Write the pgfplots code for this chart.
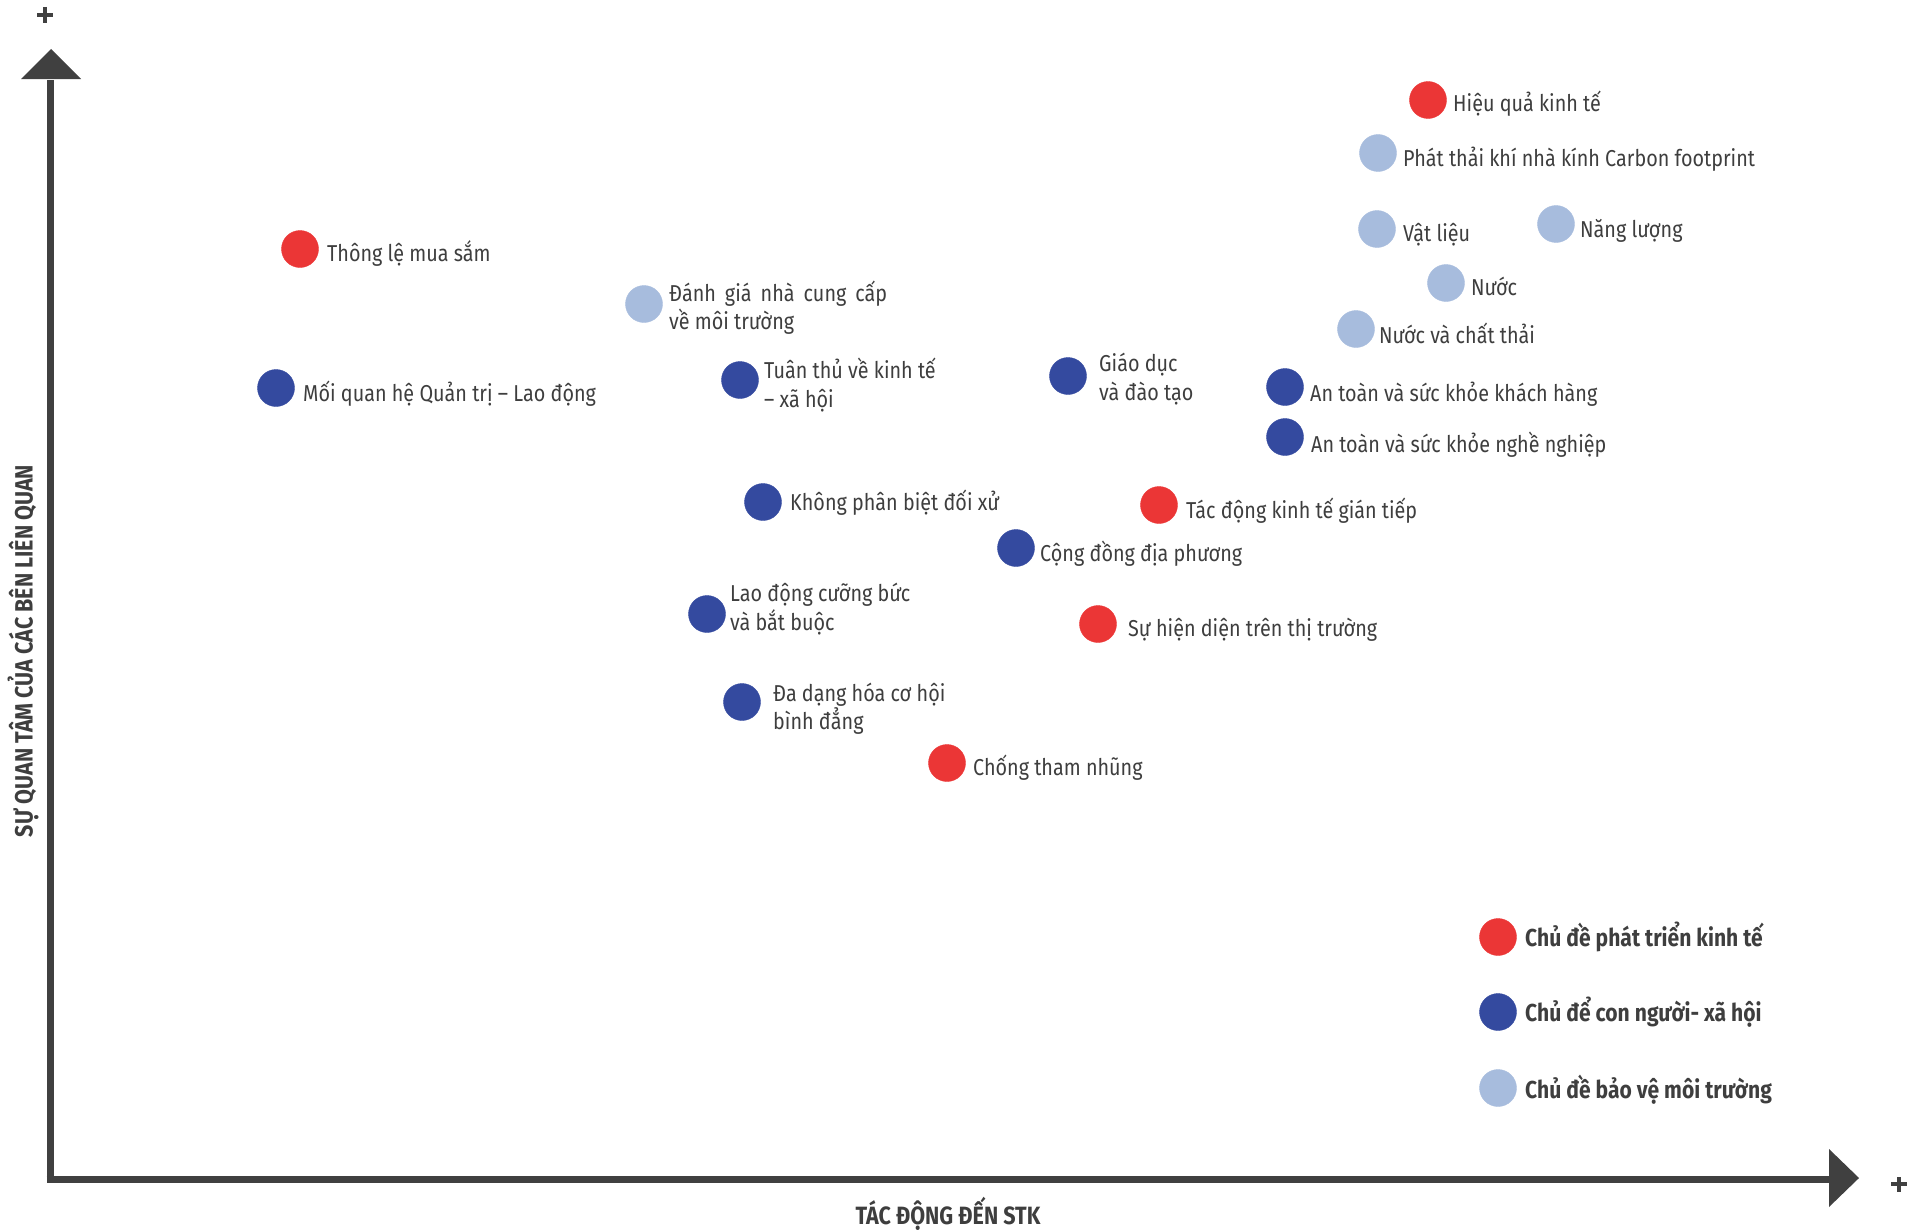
\documentclass[border=0pt]{standalone}
\usepackage{fontspec}
\setmainfont{Fira Sans}[FakeStretch=0.86]
\usepackage{pgfplots}
\pgfplotsset{compat=1.18}
\definecolor{cred}{HTML}{EB3636}
\definecolor{cdark}{HTML}{344A9F}
\definecolor{clight}{HTML}{A7BCDD}
\definecolor{ctext}{HTML}{3E3E3E}
\definecolor{caxis}{HTML}{404040}
\tikzset{lbl/.style={anchor=base west, inner sep=0pt, text=ctext, font=\fontsize{23}{27}\selectfont},
  leg/.style={anchor=base west, inner sep=0pt, text=ctext, font=\fontsize{24.5}{29}\selectfont\bfseries}}
\newcommand{\lbl}[3]{\node[lbl] at (axis cs:#1,#2) {#3};}
\begin{document}
\begin{tikzpicture}
\begin{axis}[
  scale only axis, width=1921pt, height=1231pt,
  xmin=0, xmax=1921, ymin=0, ymax=1231, y dir=reverse,
  hide axis, clip=false,
  every axis plot/.append style={only marks, mark=*, mark size=18.5pt},
]
\path (axis cs:0,0) rectangle (axis cs:1921,1231);
% axes
\draw[caxis, line width=7pt] (axis cs:50,80) -- (axis cs:50,1183);
\draw[caxis, line width=7pt] (axis cs:46.5,1179.5) -- (axis cs:1831,1179.5);
\fill[caxis] (axis cs:51,49) -- (axis cs:81,79) -- (axis cs:21,79) -- cycle;
\fill[caxis] (axis cs:1859,1178) -- (axis cs:1829,1149) -- (axis cs:1829,1207) -- cycle;
\draw[caxis, line width=4.5pt] (axis cs:37,15) -- (axis cs:53,15) (axis cs:45,7) -- (axis cs:45,23);
\draw[caxis, line width=4.5pt] (axis cs:1891,1184) -- (axis cs:1907,1184) (axis cs:1899,1177) -- (axis cs:1899,1192);
% axis titles
\node[text=ctext, font=\fontsize{25}{29}\selectfont\bfseries, rotate=90, inner sep=0pt] at (axis cs:23,651) {SỰ QUAN TÂM CỦA CÁC BÊN LIÊN QUAN};
\node[text=ctext, font=\fontsize{25}{29}\selectfont\bfseries, anchor=base, inner sep=0pt] at (axis cs:948,1224) {TÁC ĐỘNG ĐẾN STK};
% data
\addplot[color=cred, mark options={draw=cred, fill=cred}] coordinates {
 (1428,100) (300,249) (1159,505) (1098,624) (947,763)};
\addplot[color=clight, mark options={draw=clight, fill=clight}] coordinates {
 (1378,153) (1377,229) (1556,224) (1446,283) (1356,329) (644,304)};
\addplot[color=cdark, mark options={draw=cdark, fill=cdark}] coordinates {
 (276,388) (740,380) (1068,376) (1285,387) (1285,437) (763,502) (1016,548) (707,614) (742,702)};
% labels
\lbl{1453}{111}{Hiệu quả kinh tế}
\lbl{327}{261}{Thông lệ mua sắm}
\lbl{1186}{518}{Tác động kinh tế gián tiếp}
\lbl{1128}{636}{Sự hiện diện trên thị trường}
\lbl{973}{775}{Chống tham nhũng}
\lbl{1403}{166}{Phát thải khí nhà kính Carbon footprint}
\lbl{1403}{241}{Vật liệu}
\lbl{1580}{237}{Năng lượng}
\lbl{1471}{295}{Nước}
\lbl{1379}{343}{Nước và chất thải}
\lbl{669}{301}{Đánh\, giá\, nhà\, cung\, cấp}
\lbl{669}{329}{về môi trường}
\lbl{303}{401}{Mối quan hệ Quản trị – Lao động}
\lbl{764}{378}{Tuân thủ về kinh tế}
\lbl{764}{407}{– xã hội}
\lbl{1099}{371}{Giáo dục}
\lbl{1099}{400}{và đào tạo}
\lbl{1310}{401}{An toàn và sức khỏe khách hàng}
\lbl{1311}{452}{An toàn và sức khỏe nghề nghiệp}
\lbl{790}{510}{Không phân biệt đối xử}
\lbl{1040}{561}{Cộng đồng địa phương}
\lbl{730}{601}{Lao động cưỡng bức}
\lbl{730}{630}{và bắt buộc}
\lbl{773}{701}{Đa dạng hóa cơ hội}
\lbl{773}{729}{bình đẳng}
% legend
\addplot[color=cred, mark options={draw=cred, fill=cred}] coordinates {(1498,937)};
\addplot[color=cdark, mark options={draw=cdark, fill=cdark}] coordinates {(1498,1012)};
\addplot[color=clight, mark options={draw=clight, fill=clight}] coordinates {(1498,1088)};
\node[leg] at (axis cs:1525,946) {Chủ đề phát triển kinh tế};
\node[leg] at (axis cs:1525,1021) {Chủ để con người- xã hội};
\node[leg] at (axis cs:1525,1098) {Chủ đề bảo vệ môi trường};
\end{axis}
\end{tikzpicture}
\end{document}
